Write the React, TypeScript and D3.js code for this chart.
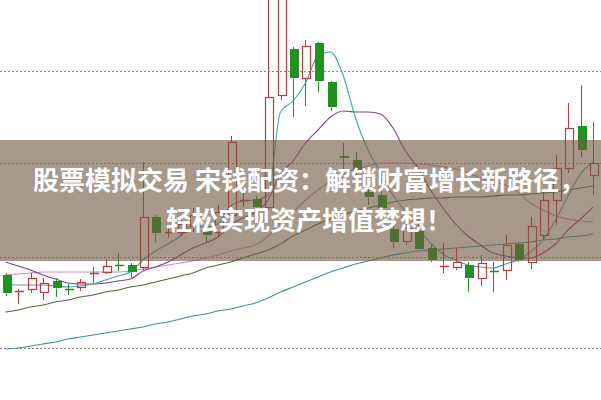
import React from "react";
import * as d3 from "d3";

const W = 601;
const H = 400;

// OHLC per trading day
const opens = [11.25, 11.09, 11.11, 11.08, 11.19, 11.12, 11.13, 11.27, 11.28, 11.36, 11.35, 11.33, 11.83, 11.68, 11.68, 11.74, 11.72, 11.68, 11.85, 12.0, 12.01, 11.93, 13.05, 13.51, 13.22, 13.57, 13.18, 12.44, 12.4, 12.08, 12.05, 11.71, 11.59, 11.69, 11.52, 11.34, 11.33, 11.35, 11.22, 11.3, 11.3, 11.56, 11.38, 11.65, 12.0, 12.32, 12.74, 12.25];
const highs = [11.27, 11.11, 11.27, 11.22, 11.22, 11.16, 11.21, 11.33, 11.41, 11.47, 11.37, 12.38, 11.85, 11.73, 11.82, 11.92, 11.76, 11.95, 12.64, 12.07, 12.04, 14.1, 14.5, 13.53, 13.6, 13.58, 13.19, 12.57, 12.48, 12.15, 12.22, 11.78, 11.85, 11.82, 11.55, 11.57, 11.52, 11.38, 11.45, 11.38, 11.65, 11.58, 11.83, 12.08, 12.45, 12.97, 13.15, 12.78];
const lows = [11.04, 10.96, 11.07, 11.0, 11.03, 11.05, 11.09, 11.17, 11.26, 11.29, 11.21, 11.3, 11.58, 11.62, 11.64, 11.68, 11.58, 11.64, 11.82, 11.93, 11.83, 11.9, 13.0, 12.83, 12.94, 13.08, 12.89, 12.27, 12.1, 11.95, 11.83, 11.52, 11.55, 11.5, 11.38, 11.27, 11.3, 11.08, 11.14, 11.08, 11.2, 11.38, 11.31, 11.6, 11.75, 12.27, 12.43, 12.05];
const closes = [11.07, 11.09, 11.22, 11.17, 11.12, 11.11, 11.18, 11.27, 11.34, 11.35, 11.28, 11.83, 11.67, 11.68, 11.76, 11.85, 11.65, 11.88, 12.58, 12.0, 11.93, 13.03, 14.4, 13.22, 13.54, 13.19, 12.93, 12.42, 12.3, 12.03, 11.92, 11.58, 11.72, 11.51, 11.4, 11.34, 11.38, 11.22, 11.37, 11.29, 11.55, 11.4, 11.74, 12.0, 12.32, 12.72, 12.5, 12.37];

// moving averages
const ma5 = [11.16, 11.15, 11.15, 11.15, 11.14, 11.13, 11.14, 11.16, 11.2, 11.24, 11.28, 11.4, 11.49, 11.56, 11.64, 11.74, 11.73, 11.76, 11.94, 11.99, 12.0, 12.05, 12.88, 12.99, 13.17, 13.44, 13.48, 13.25, 12.82, 12.5, 12.28, 12.05, 11.88, 11.72, 11.57, 11.46, 11.4, 11.35, 11.33, 11.32, 11.36, 11.4, 11.48, 11.6, 11.8, 12.04, 12.26, 12.38];
const ma10 = [11.38, 11.34, 11.3, 11.25, 11.21, 11.17, 11.16, 11.16, 11.17, 11.19, 11.21, 11.29, 11.33, 11.38, 11.45, 11.52, 11.57, 11.63, 11.75, 11.82, 11.88, 12.0, 12.26, 12.39, 12.57, 12.7, 12.83, 12.89, 12.88, 12.88, 12.86, 12.72, 12.49, 12.32, 12.1, 11.92, 11.76, 11.64, 11.55, 11.47, 11.44, 11.42, 11.42, 11.47, 11.56, 11.7, 11.81, 11.93];
const ma20 = [11.25, 11.26, 11.27, 11.28, 11.28, 11.28, 11.28, 11.28, 11.28, 11.28, 11.29, 11.31, 11.33, 11.35, 11.37, 11.39, 11.42, 11.45, 11.49, 11.52, 11.55, 11.64, 11.78, 11.88, 12.0, 12.1, 12.19, 12.26, 12.31, 12.34, 12.37, 12.37, 12.37, 12.36, 12.35, 12.33, 12.31, 12.27, 12.22, 12.18, 12.15, 12.08, 11.97, 11.9, 11.84, 11.81, 11.79, 11.78];
const ma30 = [10.88, 10.9, 10.93, 10.95, 10.98, 11.0, 11.03, 11.05, 11.08, 11.1, 11.13, 11.15, 11.18, 11.21, 11.24, 11.27, 11.32, 11.35, 11.38, 11.42, 11.46, 11.5, 11.56, 11.64, 11.7, 11.76, 11.81, 11.85, 11.89, 11.92, 11.95, 11.98, 12.0, 12.01, 12.02, 12.02, 12.03, 12.03, 12.03, 12.04, 12.05, 12.05, 12.06, 12.07, 12.08, 12.1, 12.12, 12.14];
const ma60 = [10.51, 10.52, 10.54, 10.56, 10.58, 10.61, 10.63, 10.65, 10.67, 10.69, 10.71, 10.73, 10.76, 10.78, 10.81, 10.84, 10.86, 10.89, 10.91, 10.94, 10.97, 11.02, 11.08, 11.13, 11.18, 11.23, 11.28, 11.32, 11.36, 11.39, 11.42, 11.45, 11.47, 11.49, 11.5, 11.51, 11.52, 11.53, 11.54, 11.55, 11.56, 11.57, 11.58, 11.6, 11.61, 11.63, 11.64, 11.66];

const gridLevels = [13.29, 12.37, 11.43, 10.52];
const titleLines = ["股票模拟交易 宋钱配资：解锁财富增长新路径，", "轻松实现资产增值梦想！"];

const UP = "#c23a3a";
const DOWN = "#1f921f";

const maSeries = [
  { values: ma60, color: "#3f939a" },
  { values: ma30, color: "#4e6a3a" },
  { values: ma20, color: "#d987cc" },
  { values: ma10, color: "#8b3c8b" },
  { values: ma5, color: "#4aa2aa" },
];

export default function App() {
  const idx = d3.range(closes.length);
  const x = d3.scaleLinear().domain([0, closes.length - 1]).range([5.5, 593]);
  const y = d3.scaleLinear().domain([10, 14]).range([H, 0]);
  const bodyW = 8;
  const line = d3
    .line<number>()
    .x((_, i) => x(i))
    .y((d) => y(d))
    .curve(d3.curveMonotoneX);

  return (
    <div style={{ position: "absolute", left: 0, top: 0 }}>
      <svg width={W} height={H} style={{ display: "block", background: "#fff" }}>
        {gridLevels.map((g, i) => (
          <line
            key={i}
            x1={0}
            x2={W}
            y1={Math.round(y(g)) + 0.5}
            y2={Math.round(y(g)) + 0.5}
            stroke="#8a8a8a"
            strokeWidth={1}
            strokeDasharray="2,2"
          />
        ))}
        {maSeries.map((s, i) => (
          <path key={i} d={line(s.values) || ""} fill="none" stroke={s.color} strokeWidth={1.1} />
        ))}
        {idx.map((i) => {
          const o = opens[i];
          const c = closes[i];
          const up = c >= o;
          const col = up ? UP : DOWN;
          const cx = Math.round(x(i)) + 0.5;
          const yo = y(o);
          const yc = y(c);
          const top = Math.min(yo, yc);
          const bot = Math.max(yo, yc);
          const left = Math.round(cx - bodyW / 2) + 0.5 - 0.5;
          const doji = bot - top < 1.5;
          return (
            <g key={i}>
              <line x1={cx} x2={cx} y1={y(highs[i])} y2={doji ? y(lows[i]) : Math.round(top) + 0.5} stroke={col} strokeWidth={1} />
              {!doji && (
                <line x1={cx} x2={cx} y1={Math.round(bot) + 0.5} y2={y(lows[i])} stroke={col} strokeWidth={1} />
              )}
              {doji ? (
                <line
                  x1={left}
                  x2={left + bodyW + 1}
                  y1={Math.round(yc) + 0.5}
                  y2={Math.round(yc) + 0.5}
                  stroke={col}
                  strokeWidth={1.5}
                />
              ) : up ? (
                <rect
                  x={left + 0.5}
                  y={Math.round(top) + 0.5}
                  width={bodyW}
                  height={Math.round(bot) - Math.round(top)}
                  fill="none"
                  stroke={col}
                  strokeWidth={1.2}
                />
              ) : (
                <rect
                  x={left}
                  y={Math.round(top)}
                  width={bodyW + 1}
                  height={Math.max(1, Math.round(bot) - Math.round(top))}
                  fill={col}
                />
              )}
            </g>
          );
        })}
        <rect x={0} y={140} width={W} height={121} fill="rgba(115,88,66,0.62)" />
        {titleLines.map((t, i) => (
          <text
            key={i}
            x={309}
            y={190 + i * 40}
            textAnchor="middle"
            fontSize={26}
            fontWeight="bold"
            fill="#ffffff"
            fontFamily="'Noto Sans CJK SC', 'Noto Sans', sans-serif"
          >
            {t}
          </text>
        ))}
      </svg>
    </div>
  );
}
